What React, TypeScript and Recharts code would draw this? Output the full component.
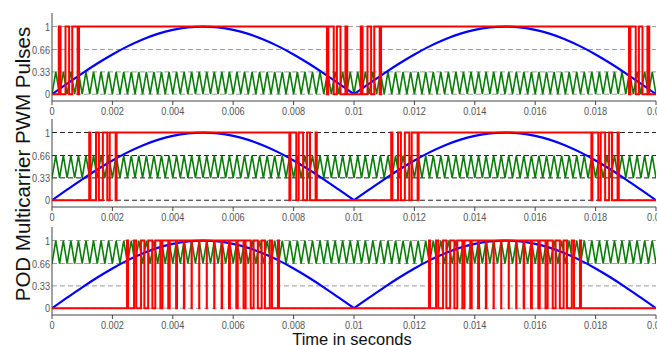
import { Line, LineChart, ReferenceLine, XAxis, YAxis } from "recharts";

// blue reference |sin|, read every 0.5 ms, one list per half cycle
const sampleStep = 0.0005;
const firstHalf = [
  0, 0.156, 0.309, 0.454, 0.588, 0.707, 0.809, 0.891, 0.951, 0.988, 1,
  0.988, 0.951, 0.891, 0.809, 0.707, 0.588, 0.454, 0.309, 0.156, 0,
];
const secondHalf = [
  0, 0.156, 0.309, 0.454, 0.588, 0.707, 0.809, 0.891, 0.951, 0.988, 1,
  0.988, 0.951, 0.891, 0.809, 0.707, 0.588, 0.454, 0.309, 0.156, 0,
];

// green triangular carriers (one band per panel), 80 cycles in 20 ms
const carrierCycles = 80;
const carrierLow = [0, 0.33, 0.66];
const carrierHigh = [0.33, 0.66, 1];

const xTicks = [0, 0.002, 0.004, 0.006, 0.008, 0.01, 0.012, 0.014, 0.016, 0.018, 0.02];
const yTicks = [0, 0.33, 0.66, 1];
const gridColors = ["#9a9a9a", "#1a1a1a", "#9a9a9a"];
const panelTops = [0, 105.5, 213.5];

const sineValues = [...firstHalf, ...secondHalf.slice(1)];
const halfSpan = sampleStep * (firstHalf.length - 1);
const tEnd = sampleStep * (sineValues.length - 1);
const firstData = firstHalf.map((v, i) => ({ t: i * sampleStep, v }));
const secondData = secondHalf.map((v, i) => ({ t: halfSpan + i * sampleStep, v }));

function sineAt(t: number) {
  const k = Math.min(Math.floor(t / sampleStep + 1e-9), sineValues.length - 2);
  const f = (t - k * sampleStep) / sampleStep;
  return sineValues[k] + (sineValues[k + 1] - sineValues[k]) * f;
}

function carrierData(lo: number, hi: number) {
  const n = carrierCycles * 2;
  const pts = [];
  for (let i = 0; i <= n; i++) pts.push({ t: (i * tEnd) / n, v: i % 2 === 0 ? lo : hi });
  return pts;
}

// pulses: high while the reference is above the carrier
function pwmData(carrier: { t: number; v: number }[]) {
  let state = sineAt(0) > carrier[0].v ? 1 : 0;
  const pts = [{ t: 0, v: state }];
  for (let i = 1; i < carrier.length; i++) {
    const a = carrier[i - 1];
    const b = carrier[i];
    const d0 = sineAt(a.t) - a.v;
    const d1 = sineAt(b.t) - b.v;
    const next = d1 > 0 ? 1 : 0;
    if (next !== state) {
      const tc = d0 === d1 ? b.t : a.t + ((b.t - a.t) * d0) / (d0 - d1);
      pts.push({ t: tc, v: state }, { t: tc, v: next });
      state = next;
    }
  }
  pts.push({ t: tEnd, v: state });
  return pts;
}

// narrow grey tick text like the original
function NarrowTick(props: any) {
  const { x, y, payload, textAnchor, verticalAnchor } = props;
  const dy = verticalAnchor === "middle" ? "0.355em" : "0.71em";
  return (
    <g transform={`translate(${x},${y}) scale(0.8,1)`}>
      <text
        x={0}
        y={0}
        dy={dy}
        textAnchor={textAnchor}
        fontFamily="'Liberation Sans', Arial, sans-serif"
        fontSize={11.5}
        fill="#555"
      >
        {String(payload.value)}
      </text>
    </g>
  );
}

function Panel({ index }: { index: number }) {
  const carrier = carrierData(carrierLow[index], carrierHigh[index]);
  const pwm = pwmData(carrier);
  return (
    <div style={{ position: "absolute", left: 0, top: panelTops[index] }}>
      <LineChart width={657} height={123} margin={{ top: 13, right: 1, bottom: 0, left: 0 }}>
        <XAxis
          type="number"
          dataKey="t"
          domain={[0, 0.02]}
          ticks={xTicks}
          interval={0}
          height={22}
          tickSize={4}
          tick={<NarrowTick />}
          stroke="#444"
          allowDataOverflow
        />
        <YAxis
          type="number"
          domain={[-0.1, 1.2]}
          ticks={yTicks}
          interval={0}
          width={52}
          tickLine={false}
          tickSize={0}
          tickMargin={2}
          tick={<NarrowTick />}
          stroke="#444"
          allowDataOverflow
        />
        {yTicks.map((v) => (
          <ReferenceLine key={v} y={v} stroke={gridColors[index]} strokeDasharray="5 3" />
        ))}
        <Line data={carrier} dataKey="v" stroke="#0b7d0b" strokeWidth={1.6} dot={false} activeDot={false} type="linear" isAnimationActive={false} />
        <Line data={firstData} dataKey="v" stroke="#0000ff" strokeWidth={2.2} dot={false} activeDot={false} type="monotone" isAnimationActive={false} />
        <Line data={secondData} dataKey="v" stroke="#0000ff" strokeWidth={2.2} dot={false} activeDot={false} type="monotone" isAnimationActive={false} />
        <Line data={pwm} dataKey="v" stroke="#ff0000" strokeWidth={2} dot={false} activeDot={false} type="linear" isAnimationActive={false} />
      </LineChart>
    </div>
  );
}

export default function App() {
  return (
    <div
      style={{
        position: "fixed",
        left: 0,
        top: 0,
        width: 657,
        height: 345,
        overflow: "hidden",
        background: "#fff",
      }}
    >
      {[0, 1, 2].map((i) => (
        <Panel key={i} index={i} />
      ))}
      <div
        style={{
          position: "absolute",
          left: 23 - 150,
          top: 164 - 12,
          width: 300,
          height: 24,
          lineHeight: "24px",
          textAlign: "center",
          transform: "rotate(-90deg)",
          fontFamily: "'Liberation Sans', Arial, sans-serif",
          fontSize: 20.5,
          color: "#111",
          whiteSpace: "nowrap",
        }}
      >
        POD Multicarrier PWM Pulses
      </div>
      <div
        style={{
          position: "absolute",
          left: 252,
          top: 331,
          width: 200,
          textAlign: "center",
          lineHeight: 1,
          fontFamily: "'Liberation Sans', Arial, sans-serif",
          fontSize: 16.5,
          color: "#111",
          whiteSpace: "nowrap",
        }}
      >
        Time in seconds
      </div>
    </div>
  );
}
